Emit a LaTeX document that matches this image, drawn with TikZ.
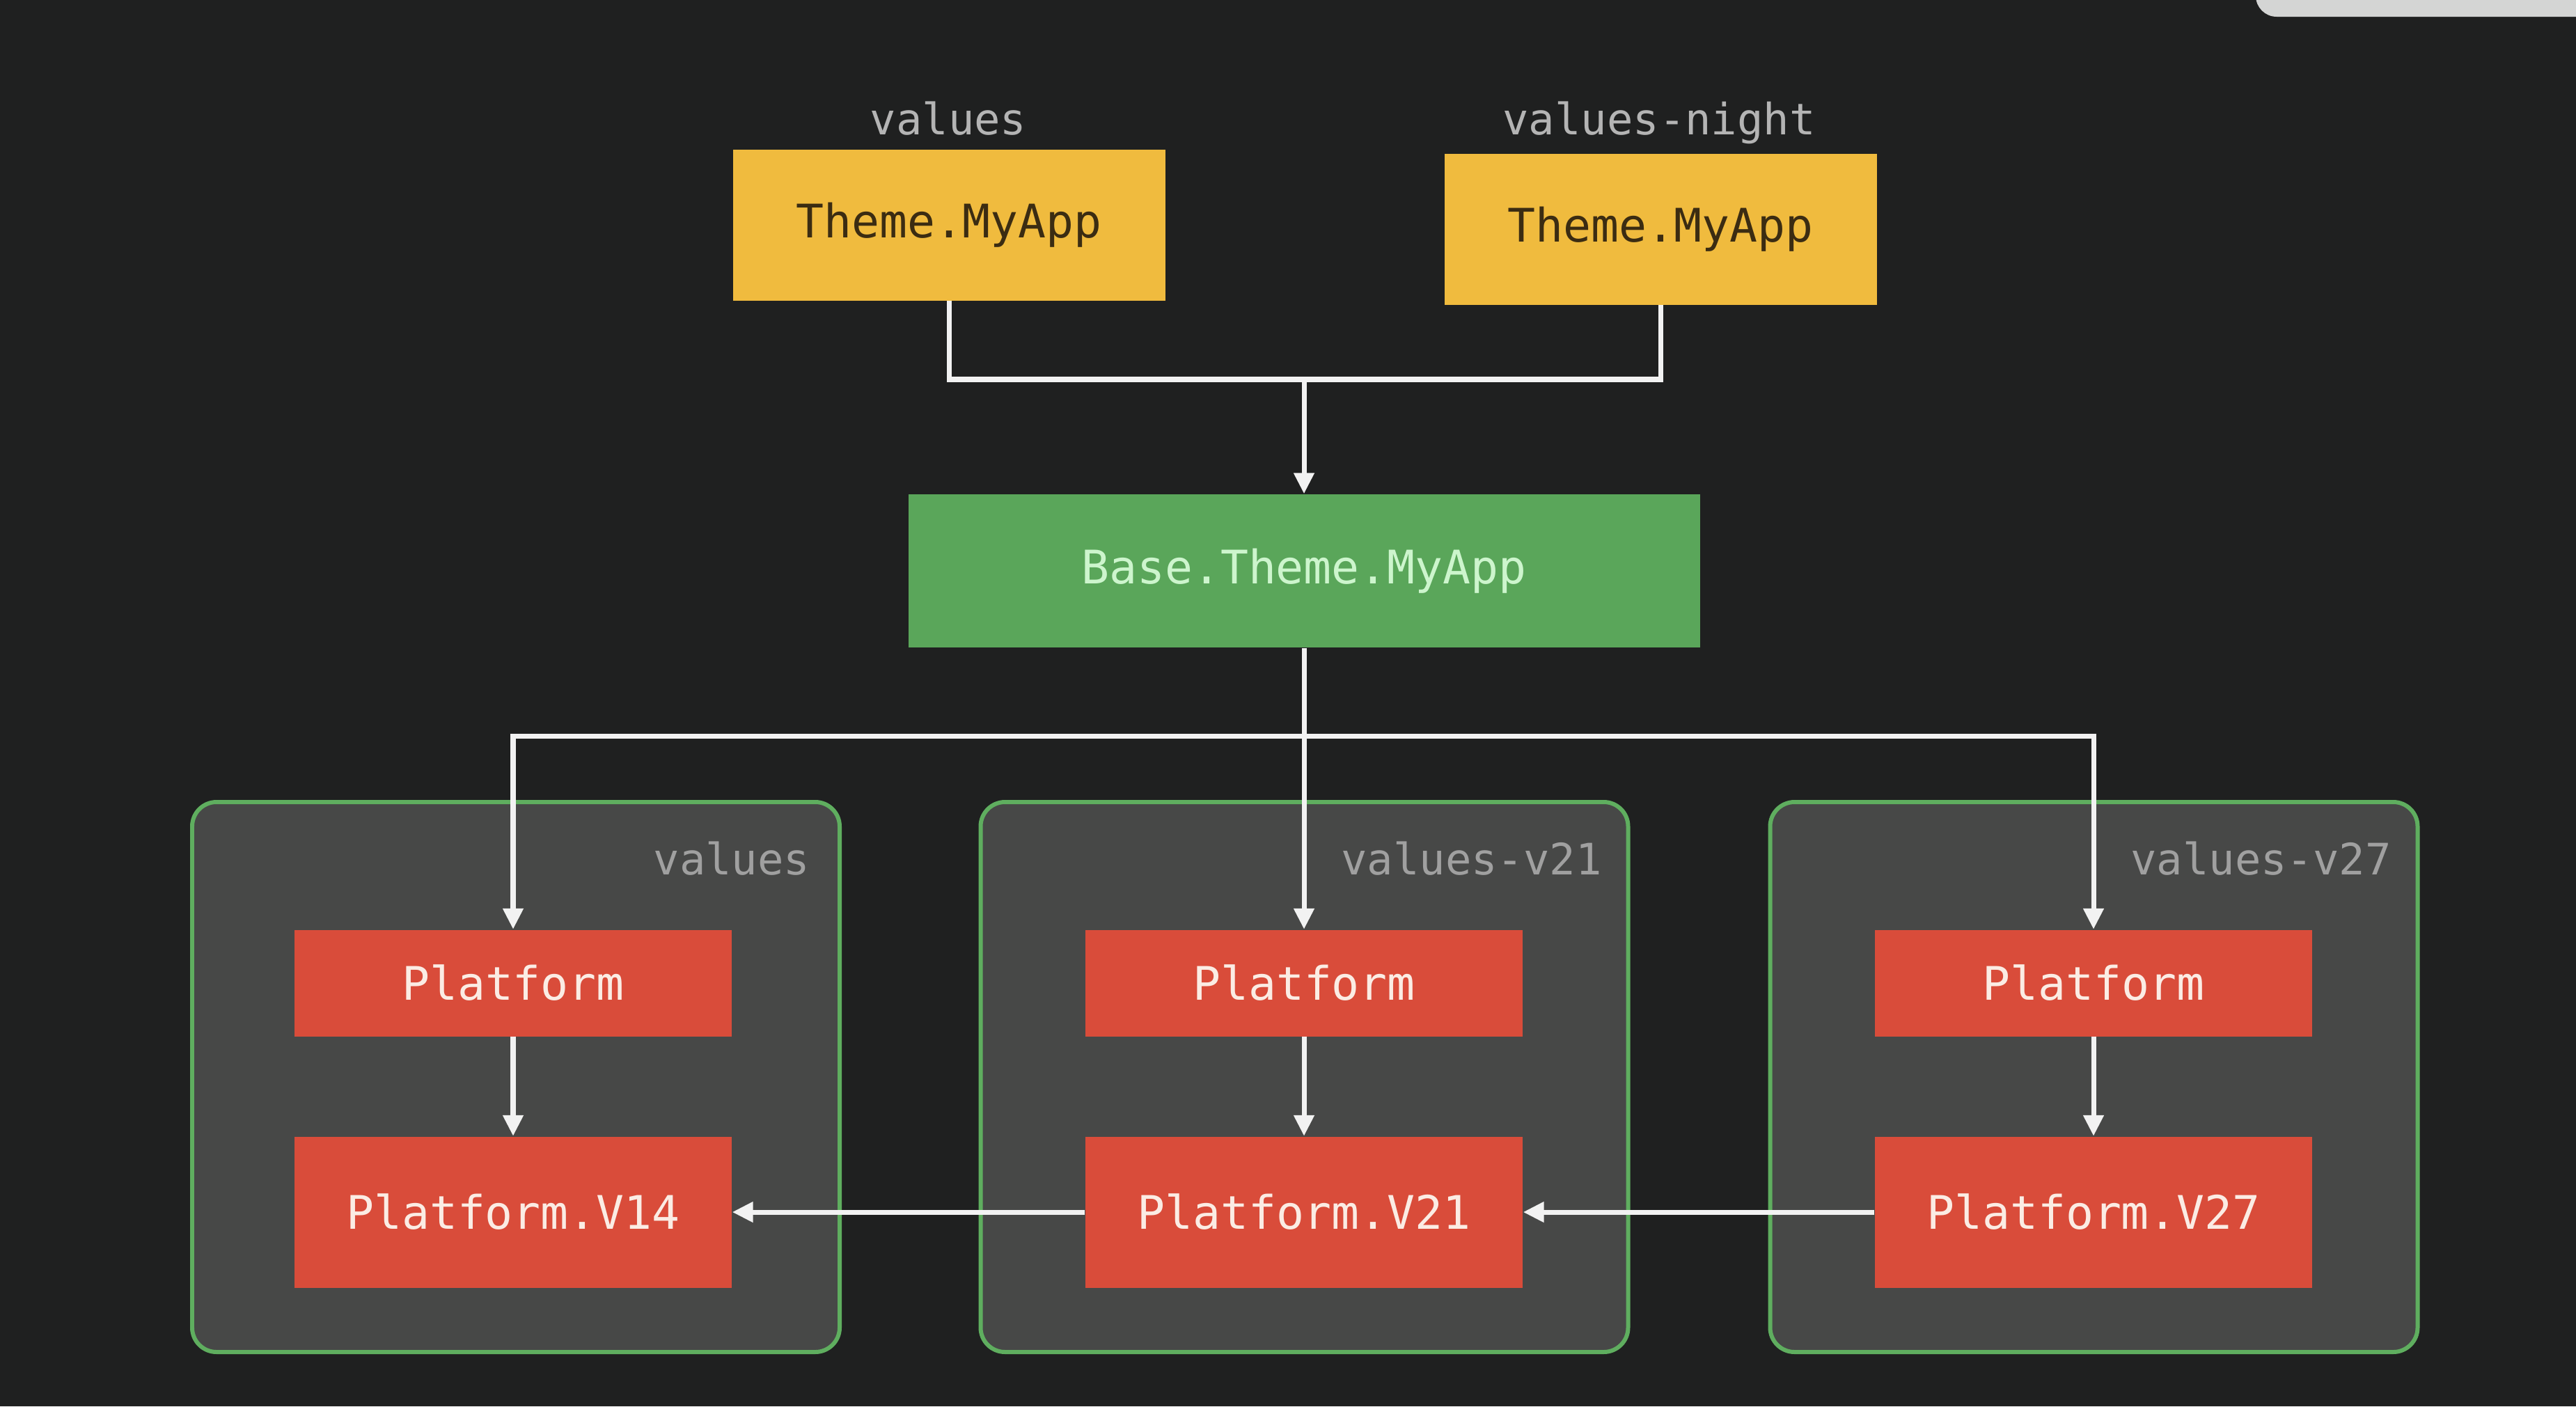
\documentclass[tikz,border=0pt]{standalone}
\usepackage{fontspec}
\newfontfamily\codefont{DejaVu Sans Mono}
\usetikzlibrary{arrows.meta,positioning}
\definecolor{bgc}{HTML}{1F2020}
\definecolor{yel}{HTML}{F0BB3E}
\definecolor{yeltext}{HTML}{3B2C12}
\definecolor{grn}{HTML}{5AA65A}
\definecolor{grntext}{HTML}{CDF5CD}
\definecolor{redc}{HTML}{D94C3A}
\definecolor{redtext}{HTML}{FBECE4}
\definecolor{contfill}{HTML}{474847}
\definecolor{contborder}{HTML}{5FAE5F}
\definecolor{lbltop}{HTML}{B4B4B4}
\definecolor{lblcont}{HTML}{A0A0A0}
\definecolor{linec}{HTML}{F2F2F2}
\definecolor{tabc}{HTML}{D4D5D4}
\tikzset{
  box/.style={rectangle, inner sep=0pt, font=\codefont\fontsize{18.9}{22}\selectfont},
  yelbox/.style={box, fill=yel, text=yeltext, minimum width=6.21cm, minimum height=2.17cm},
  grnbox/.style={box, fill=grn, text=grntext, minimum width=11.37cm, minimum height=2.20cm},
  redbox/.style={box, fill=redc, text=redtext, minimum width=6.28cm},
  container/.style={rectangle, rounded corners=0.35cm, fill=contfill, draw=contborder, line width=1.7pt, minimum width=9.30cm, minimum height=7.90cm},
  toplbl/.style={font=\codefont\fontsize{17.7}{20}\selectfont, text=lbltop, inner sep=0pt, anchor=base},
  contlbl/.style={font=\codefont\fontsize{17.7}{20}\selectfont, text=lblcont, inner sep=0pt, anchor=base east},
  conn/.style={draw=linec, line width=2pt},
  arr/.style={conn, -{Triangle[width=8pt,length=8.5pt]}},
}
\begin{document}
\begin{tikzpicture}
\useasboundingbox (0,0) rectangle (37,-20.2);
\fill[bgc] (0,0) rectangle (37,-20.2);
% top-right tab
\fill[tabc, rounded corners=0.3cm] (32.4,0.5) -- (32.4,-0.24) -- (37.5,-0.24) -- (37.5,0.5) -- cycle;

% top labels and theme boxes
\node[toplbl] (lv) at (13.62,-1.93) {values};
\node[toplbl] (lvn) at (23.83,-1.93) {values-night};
\node[yelbox] (y1) at (13.63,-3.23) {Theme.MyApp};
\node[yelbox] (y2) at (23.85,-3.29) {Theme.MyApp};

% base
\node[grnbox] (base) at (18.73,-8.20) {Base.Theme.MyApp};

% containers
\node[container] (c1) at (7.41,-15.47) {};
\node[container] (c2) at (18.735,-15.47) {};
\node[container] (c3) at (30.075,-15.47) {};
\node[contlbl] (l1) at ([xshift=-0.45cm,yshift=-1.07cm]c1.north east) {values};
\node[contlbl] (l2) at ([xshift=-0.40cm,yshift=-1.07cm]c2.north east) {values-v21};
\node[contlbl] (l3) at ([xshift=-0.40cm,yshift=-1.07cm]c3.north east) {values-v27};

% platform boxes
\node[redbox, minimum height=1.53cm] (p1) at (7.37,-14.12) {Platform};
\node[redbox, minimum height=2.17cm] (v14) at (7.37,-17.41) {Platform.V14};
\node[redbox, minimum height=1.53cm] (p2) at (18.73,-14.12) {Platform};
\node[redbox, minimum height=2.17cm] (v21) at (18.73,-17.41) {Platform.V21};
\node[redbox, minimum height=1.53cm] (p3) at (30.07,-14.12) {Platform};
\node[redbox, minimum height=2.17cm] (v27) at (30.07,-17.41) {Platform.V27};

% connectors
\coordinate (j1) at (18.73,-5.45);
\coordinate (j2) at (18.73,-10.57);
\draw[conn] (y1.south) |- (j1) -| (y2.south);
\draw[arr] (j1) -- (base.north);
\draw[conn] (base.south) -- (j2);
\draw[arr] (j2) -| (p1.north);
\draw[arr] (j2) -| (p3.north);
\draw[arr] (j2) -- (p2.north);
\draw[arr] (p1.south) -- (v14.north);
\draw[arr] (p2.south) -- (v21.north);
\draw[arr] (p3.south) -- (v27.north);
\draw[arr] (v21.west) -- (v14.east);
\draw[arr] (v27.west) -- (v21.east);
\end{tikzpicture}
\end{document}
